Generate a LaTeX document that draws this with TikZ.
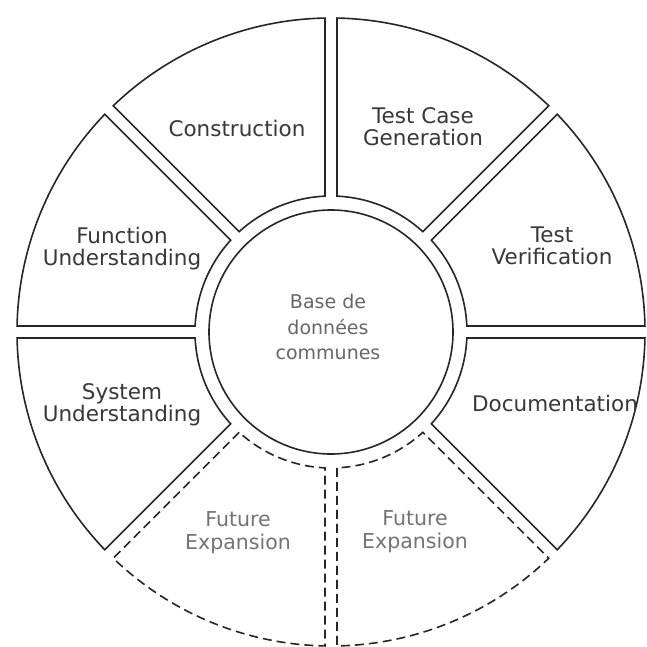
\documentclass[tikz,border=0pt]{standalone}
\usepackage{fontspec}
\setmainfont{DejaVu Sans}
\begin{document}
\begin{tikzpicture}[x=1pt,y=1pt,
  segline/.style={draw=black!85, line width=1.6pt, line join=miter},
  futline/.style={segline, dash pattern=on 9pt off 5pt},
  lbl/.style={text=black!78, align=center, font=\fontsize{21.5}{22}\selectfont},
  futlbl/.style={text=black!55, align=center, font=\fontsize{20.5}{23}\selectfont},
  hublbl/.style={text=black!60, align=center, font=\fontsize{19}{25.5}\selectfont}]
\useasboundingbox (0,0) rectangle (647,-647);
\pgfmathsetmacro{\rOut}{314}
\pgfmathsetmacro{\rIn}{136}
\pgfmathsetmacro{\rHub}{122}
\pgfmathsetmacro{\dOut}{asin(6/\rOut)}
\pgfmathsetmacro{\dIn}{asin(6/\rIn)}
\newcommand{\wheelseg}[3]{%
  \draw[#3] ({#1+\dIn}:\rIn) -- ({#1+\dOut}:\rOut)
    arc[start angle={#1+\dOut}, end angle={#2-\dOut}, radius=\rOut]
    -- ({#2-\dIn}:\rIn)
    arc[start angle={#2-\dIn}, end angle={#1+\dIn}, radius=\rIn] -- cycle;}
\begin{scope}[shift={(331,-332)}]
  \wheelseg{0}{45}{segline}
  \wheelseg{45}{90}{segline}
  \wheelseg{90}{135}{segline}
  \wheelseg{135}{180}{segline}
  \wheelseg{180}{225}{segline}
  \wheelseg{225}{270}{futline}
  \wheelseg{270}{315}{futline}
  \wheelseg{315}{360}{segline}
  \draw[segline] (0,0) circle[radius=\rHub];
\end{scope}
\node[lbl] (constr) at (237,-128) {Construction};
\node[lbl] (tcg) at (423,-127) {Test Case\\Generation};
\node[lbl] (tver) at (552,-246) {Test\\Verification};
\node[lbl] (func) at (122,-249) {Function\\Understanding};
\node[lbl] (sys) at (122,-405) {System\\Understanding};
\node[lbl] (doc) at (555,-403) {Documentation};
\node[futlbl] (futl) at (238,-533) {Future\\Expansion};
\node[futlbl] (futr) at (415,-532) {Future\\Expansion};
\node[hublbl] (hub) at (328,-327) {Base de\\données\\communes};
\end{tikzpicture}
\end{document}
